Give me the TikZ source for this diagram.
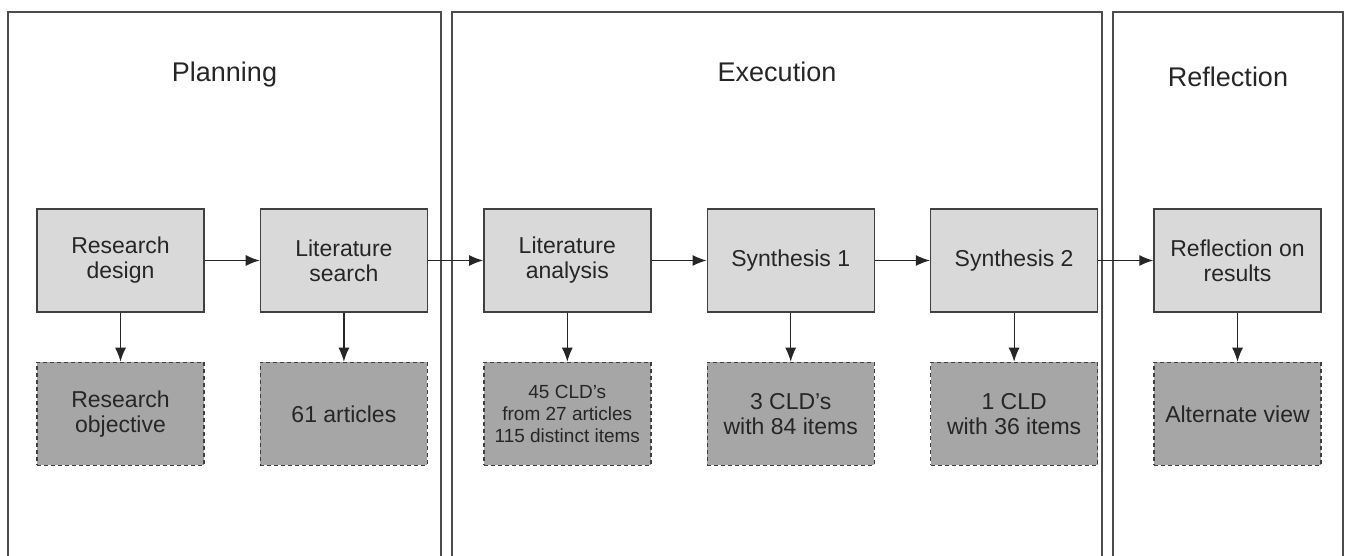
\documentclass[tikz,border=0pt]{standalone}
\usepackage{fontspec}
\setmainfont{Liberation Sans}
\usetikzlibrary{positioning,arrows.meta}

\tikzset{
  stage/.style={draw=black!75, line width=1.4pt, fill=black!15, text=black!85,
    minimum width=167pt, minimum height=103pt, inner sep=0pt, align=center,
    font=\fontsize{23}{25}\selectfont},
  result/.style={stage, fill=black!35, dash pattern=on 4pt off 3pt},
  phase/.style={draw=black!70, line width=1.5pt},
  phasetitle/.style={anchor=base, text=black!85, font=\fontsize{27}{30}\selectfont},
  flow/.style={-{Latex[length=14pt,width=11pt]}, line width=1.2pt, draw=black!85}
}

\begin{document}
\begin{tikzpicture}[x=1pt,y=-1pt]
  \useasboundingbox (0,0) rectangle (1345,556);
  \clip (0,0) rectangle (1345,556);

  % three phases, open at the bottom
  \draw[phase] (8,570) |- (441,12) -- (441,570);
  \draw[phase] (452,570) |- (1102,12) -- (1102,570);
  \draw[phase] (1113,570) |- (1343,12) -- (1343,570);
  \node[phasetitle] (planning) at (224.5,82) {Planning};
  \node[phasetitle] (execution) at (777,82) {Execution};
  \node[phasetitle] (reflection) at (1228,87) {Reflection};

  % process steps
  \node[stage] (design) at (120.5,260.5) {Research\\design};
  \node[stage, right=55pt of design] (search) {Literature\\search};
  \node[stage, right=55pt of search] (analysis) {Literature\\analysis};
  \node[stage, right=55pt of analysis] (synth1) {Synthesis 1};
  \node[stage, right=55pt of synth1] (synth2) {Synthesis 2};
  \node[stage, right=55pt of synth2] (results) {Reflection on\\results};

  % outcomes
  \node[result, below=49pt of design] (objective) {Research\\objective};
  \node[result, below=49pt of search] (articles) {61 articles};
  \node[result, below=49pt of analysis, font=\fontsize{19}{22}\selectfont] (clds) {45 CLD's\\from 27 articles\\115 distinct items};
  \node[result, below=49pt of synth1] (three) {3 CLD's\\with 84 items};
  \node[result, below=49pt of synth2] (one) {1 CLD\\with 36 items};
  \node[result, below=49pt of results] (view) {Alternate view};

  \draw[flow] (design) -- (search);
  \draw[flow] (search) -- (analysis);
  \draw[flow] (analysis) -- (synth1);
  \draw[flow] (synth1) -- (synth2);
  \draw[flow] (synth2) -- (results);
  \foreach \s/\r in {design/objective, search/articles, analysis/clds,
                     synth1/three, synth2/one, results/view}
    \draw[flow] (\s) -- (\r);
\end{tikzpicture}
\end{document}
